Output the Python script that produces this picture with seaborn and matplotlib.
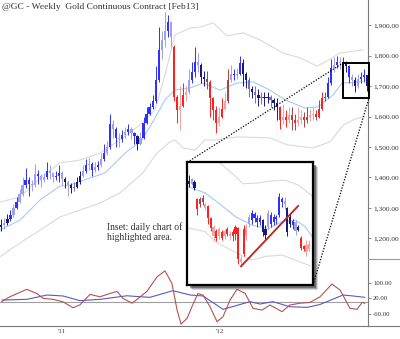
import pandas as pd
import matplotlib
matplotlib.use("Agg")
import matplotlib.pyplot as plt
import matplotlib.dates as mdates
from matplotlib.patches import Rectangle
from matplotlib.lines import Line2D
import seaborn as sns

sns.set_theme(style="white")
plt.rcParams["font.family"] = ["Liberation Serif", "DejaVu Serif"]

# ---------------- weekly gold continuous contract ----------------
week_start = "2010-08-13"
wk_open = [1238, 1245, 1250, 1262, 1275, 1300, 1320, 1345, 1375, 1390,
           1380, 1375, 1410, 1405, 1390, 1400, 1420, 1415, 1400, 1405,
           1415, 1395, 1385, 1375, 1365, 1370, 1385, 1405, 1420, 1440,
           1445, 1425, 1435, 1440, 1460, 1480, 1500, 1575, 1560, 1530,
           1525, 1540, 1550, 1560, 1545, 1535, 1510, 1530, 1580, 1610,
           1630, 1650, 1720, 1820, 1850, 1880, 1910, 1830, 1665, 1620,
           1635, 1670, 1680, 1720, 1745, 1780, 1770, 1730, 1725, 1715,
           1660, 1620, 1580, 1600, 1625, 1650, 1720, 1740, 1735, 1740,
           1775, 1740, 1720, 1690, 1680, 1670, 1660, 1665, 1660, 1665,
           1655, 1645, 1630, 1590, 1600, 1590, 1605, 1590, 1580, 1590,
           1600, 1590, 1600, 1605, 1610, 1600, 1625, 1660, 1665, 1710,
           1760, 1770, 1780, 1775, 1780, 1765, 1730, 1720, 1700, 1725,
           1730, 1735]
wk_high = [1262, 1268, 1280, 1292, 1312, 1335, 1362, 1400, 1430, 1400,
           1390, 1445, 1425, 1410, 1415, 1450, 1440, 1418, 1420, 1440,
           1420, 1400, 1392, 1382, 1385, 1400, 1420, 1440, 1460, 1465,
           1450, 1450, 1455, 1480, 1510, 1520, 1610, 1590, 1565, 1545,
           1555, 1565, 1575, 1565, 1550, 1540, 1550, 1600, 1630, 1645,
           1670, 1765, 1895, 1880, 1945, 1935, 1915, 1835, 1670, 1700,
           1710, 1700, 1755, 1780, 1830, 1810, 1775, 1750, 1750, 1720,
           1665, 1635, 1630, 1660, 1680, 1755, 1770, 1755, 1760, 1800,
           1790, 1745, 1730, 1700, 1700, 1690, 1680, 1680, 1680, 1670,
           1660, 1660, 1635, 1640, 1620, 1630, 1630, 1610, 1630, 1620,
           1615, 1630, 1625, 1630, 1620, 1655, 1680, 1680, 1730, 1790,
           1795, 1800, 1795, 1795, 1782, 1768, 1740, 1730, 1740, 1745,
           1755, 1738]
wk_low = [1225, 1232, 1245, 1258, 1270, 1295, 1315, 1340, 1365, 1340,
          1355, 1370, 1380, 1370, 1385, 1395, 1395, 1385, 1390, 1385,
          1375, 1365, 1340, 1350, 1355, 1365, 1380, 1400, 1415, 1425,
          1405, 1418, 1425, 1435, 1455, 1475, 1495, 1530, 1500, 1500,
          1518, 1530, 1540, 1525, 1510, 1490, 1505, 1525, 1575, 1605,
          1625, 1645, 1715, 1790, 1830, 1860, 1830, 1650, 1580, 1555,
          1630, 1650, 1675, 1710, 1730, 1745, 1710, 1700, 1690, 1600,
          1590, 1545, 1570, 1595, 1620, 1645, 1715, 1720, 1725, 1735,
          1700, 1695, 1665, 1660, 1645, 1635, 1640, 1635, 1645, 1630,
          1620, 1590, 1560, 1575, 1565, 1580, 1555, 1555, 1570, 1575,
          1565, 1580, 1585, 1590, 1590, 1595, 1620, 1650, 1660, 1705,
          1745, 1760, 1755, 1760, 1745, 1710, 1700, 1680, 1695, 1710,
          1715, 1685]
wk_close = [1245, 1250, 1262, 1275, 1300, 1320, 1345, 1375, 1390, 1380,
            1375, 1410, 1405, 1390, 1400, 1420, 1415, 1400, 1405, 1415,
            1395, 1385, 1375, 1365, 1370, 1385, 1405, 1420, 1440, 1445,
            1425, 1435, 1440, 1460, 1480, 1500, 1575, 1560, 1530, 1525,
            1540, 1550, 1560, 1545, 1535, 1510, 1530, 1580, 1610, 1630,
            1650, 1720, 1820, 1850, 1880, 1910, 1860, 1665, 1620, 1635,
            1670, 1680, 1720, 1745, 1780, 1770, 1730, 1725, 1715, 1660,
            1620, 1580, 1600, 1625, 1650, 1720, 1740, 1735, 1740, 1775,
            1740, 1720, 1690, 1680, 1670, 1660, 1665, 1660, 1665, 1655,
            1645, 1630, 1590, 1600, 1590, 1605, 1590, 1580, 1590, 1600,
            1590, 1600, 1605, 1610, 1600, 1625, 1660, 1665, 1710, 1760,
            1770, 1780, 1775, 1780, 1765, 1730, 1720, 1700, 1725, 1730,
            1735, 1700]
# bar shading: B blue, L light blue, N navy, P slate, R red, S light red, D dark red
wk_tone = ("NLNBLBLLBB" "LLBLLBLLBB" "LNLNPNNLBL" "BLBLBLBLBL" "BLBLBNLBBB"
           "BBBLLBLRRS" "RSLBBLNNDR" "RRSRSDLBLB" "NNPNPNPNNP" "NNRSRSDRSS"
           "DRSSDRRRBB" "LBLBNBLNLB" "BN")

# price bands (position in weeks from first bar, price)
upper_wk = [-0.5, 6.2, 12.8, 19.4, 26.0, 32.6, 39.2, 45.8, 50.8, 54.1, 57.4, 62.4,
            65.7, 70.0, 74.6, 79.9, 85.5, 93.1, 98.7, 104.4, 107.0, 112.0, 119.6]
upper_px = [1319, 1336, 1398, 1448, 1457, 1480, 1523, 1572, 1622, 1737, 1868, 1891,
            1894, 1908, 1865, 1875, 1852, 1809, 1793, 1766, 1779, 1809, 1819]
mid_wk = [-0.5, 6.2, 12.8, 19.4, 22.7, 29.3, 34.3, 40.9, 46.5, 50.8, 54.1, 57.4,
          62.4, 66.7, 72.3, 77.9, 83.2, 88.8, 93.8, 100.4, 104.7, 109.7, 112.6, 119.3]
mid_px = [1227, 1260, 1326, 1372, 1375, 1398, 1415, 1480, 1523, 1595, 1655, 1687,
          1694, 1710, 1687, 1710, 1714, 1687, 1655, 1628, 1632, 1671, 1710, 1714]
lower_wk = [-0.5, 6.2, 12.8, 19.4, 26.0, 32.6, 39.2, 46.8, 51.4, 55.8, 57.4, 60.1,
            64.0, 67.3, 70.6, 77.9, 88.8, 94.5, 103.0, 108.7, 113.0, 117.6, 120.2]
lower_px = [1139, 1185, 1227, 1270, 1293, 1316, 1349, 1415, 1480, 1517, 1523, 1497,
            1490, 1523, 1523, 1533, 1530, 1507, 1497, 1517, 1572, 1595, 1599]

# oscillators
fast_wk = [0.1, 2.8, 8.4, 11.7, 13.8, 17.1, 20.4, 23.7, 26.0, 29.3, 32.6, 35.9, 38.2,
           40.2, 43.2, 44.8, 48.1, 51.5, 54.1, 56.4, 58.1, 59.4, 61.4, 63.0, 65.0, 66.7,
           69.0, 71.3, 73.3, 75.6, 77.9, 80.6, 83.2, 86.2, 88.8, 92.8, 95.4, 98.7, 102.0,
           105.4, 109.3, 112.0, 115.3, 117.6, 119.3, 120.2]
fast_val = [3, 28, 66, 45, 20, 15, 2, -28, -13, 40, 28, 45, 55,
            20, -5, 14, 55, 130, 160, 96, -40, -111, -82, -23, 45, 36,
            -23, -99, -73, 11, 66, 45, -31, -40, -14, -48, -14, -5, -1,
            28, 93, 62, -31, -36, -1, -5]
slow_wk = [0.2, 8.5, 15.1, 20.4, 26.0, 32.6, 41.5, 49.1, 56.7, 62.4, 66.7, 73.3,
           82.2, 85.5, 89.8, 95.4, 101.1, 105.4, 113.0, 116.3, 120.2]
slow_val = [11, 15, 37, 32, 8, 15, 33, 25, 59, 37, 32, -36,
            3, -9, 3, -23, -26, -11, 37, 32, 25]

# highlighted window on the weekly chart
box_from, box_to = "2012-10-11", "2012-12-11"
box_lo, box_hi = 1661, 1776

# ---------------- daily detail (inset) ----------------
d_open = [1790, 1786, 1789, 1764, 1758, 1766, 1757, 1755, 1738, 1726,
          1720, 1712, 1718, 1712, 1723, 1716, 1718, 1715, 1724, 1680,
          1688, 1712, 1730, 1735, 1744, 1738, 1733, 1735, 1722, 1725,
          1742, 1732, 1736, 1742, 1764, 1758, 1752, 1740, 1728, 1732,
          1726, 1710, 1698, 1700, 1695]
d_high = [1798, 1794, 1791, 1766, 1768, 1770, 1759, 1756, 1740, 1728,
          1723, 1726, 1721, 1723, 1726, 1719, 1723, 1728, 1726, 1684,
          1728, 1730, 1744, 1749, 1747, 1742, 1742, 1737, 1728, 1749,
          1747, 1744, 1742, 1773, 1768, 1768, 1754, 1744, 1737, 1735,
          1728, 1712, 1700, 1707, 1707]
d_low = [1782, 1784, 1777, 1742, 1754, 1756, 1749, 1730, 1719, 1707,
         1705, 1709, 1707, 1709, 1712, 1707, 1705, 1707, 1674, 1672,
         1684, 1707, 1726, 1730, 1733, 1726, 1728, 1712, 1709, 1721,
         1726, 1728, 1730, 1740, 1754, 1751, 1712, 1726, 1723, 1714,
         1719, 1693, 1691, 1684, 1691]
d_close = [1785, 1792, 1780, 1750, 1765, 1760, 1752, 1738, 1724, 1712,
           1710, 1722, 1710, 1720, 1716, 1712, 1712, 1725, 1680, 1676,
           1722, 1726, 1740, 1745, 1738, 1732, 1738, 1718, 1714, 1745,
           1730, 1740, 1739, 1768, 1760, 1762, 1718, 1730, 1734, 1720,
           1721, 1696, 1694, 1690, 1702]
d_tone = "NLNRDDSRRS" "RSRSRSRRRS" "RSLBBBBNNL" "BBBBBLNNBL" "NRRSS"
d_up_x = [8.0, 10.8, 15.6, 19.9, 25.4, 30.3, 35.2, 40.1, 45.0]
d_up = [1830, 1817, 1801, 1786, 1787, 1790, 1791, 1784, 1769]
d_mid_x = [-0.5, 5.9, 10.8, 16.9, 23.0, 29.1, 34.0, 38.9, 42.5, 45.4]
d_mid = [1782, 1773, 1759, 1740, 1728, 1723, 1733, 1735, 1726, 1710]
d_lo_x = [-0.5, 5.9, 9.5, 14.4, 19.9, 23.0, 27.9, 34.0, 38.9, 44.4]
d_lo = [1724, 1719, 1705, 1695, 1684, 1679, 1684, 1686, 1679, 1671]
trend_x = [19, 40]
trend_y = [1670, 1755]

price_ticks = [1200, 1300, 1400, 1500, 1600, 1700, 1800, 1900]
osc_ticks = [100, 20, -60]
osc_labels = ["100.00", "20.00", "-60.00"]
title = "@GC - Weekly  Gold Continuous Contract [Feb13]"
note = ["Inset: daily chart of", "highlighted area."]

tone_colors = {"B": "#2f2fff", "L": "#a0a0f0", "N": "#18187e", "P": "#7272b8",
               "R": "#ff2020", "S": "#f6a0a0", "D": "#a84444"}
band_gray = "#dadada"
band_blue = "#a6ccf4"
axis_gray = "#7a7a7a"
text_col = "#333333"

W, H = 400, 339
fig = plt.figure(figsize=(W / 100, H / 100), dpi=100)
fig.patch.set_facecolor("white")


def fx(px):
    return px / W


def fy(py):
    return 1 - py / H


ax = fig.add_axes([0, fy(259), fx(368), fy(0) - fy(259)], zorder=1)
axo = fig.add_axes([0, fy(326), fx(368), fy(259) - fy(326)], zorder=1)

weeks = pd.date_range(week_start, periods=len(wk_close), freq="7D")
t0 = pd.Timestamp(week_start)


def wk_dates(pos):
    return pd.DatetimeIndex([t0 + pd.Timedelta(days=7 * p) for p in pos])


ref = pd.Timestamp("2011-01-01")
xlim = (ref - pd.Timedelta(days=144.2), ref + pd.Timedelta(days=707.6))


def draw_bars(a, xs, o, h, l, c, tones, width, wick_lw):
    cols = [tone_colors[t] for t in tones]
    a.vlines(xs, l, h, colors=cols, lw=wick_lw, zorder=3)
    bottoms = [min(a1, b1) for a1, b1 in zip(o, c)]
    heights = [max(abs(b1 - a1), 1.5) for a1, b1 in zip(o, c)]
    a.bar(xs, heights, bottom=bottoms, width=width, color=cols, linewidth=0, zorder=4)


# bands and moving average
sns.lineplot(x=wk_dates(upper_wk), y=upper_px, ax=ax, color=band_gray, lw=0.8, sort=False, estimator=None)
sns.lineplot(x=wk_dates(lower_wk), y=lower_px, ax=ax, color=band_gray, lw=0.8, sort=False, estimator=None)
sns.lineplot(x=wk_dates(mid_wk), y=mid_px, ax=ax, color=band_blue, lw=0.8, sort=False, estimator=None)
draw_bars(ax, weeks, wk_open, wk_high, wk_low, wk_close, wk_tone, 5.0, 0.7)

ax.set_xlim(*xlim)
ax.set_ylim(1132, 1983)
ax.set_xlabel("")
ax.set_ylabel("")
ax.set_xticks([])
for s in ("left", "top", "bottom"):
    ax.spines[s].set_visible(False)
ax.spines["right"].set_color(axis_gray)
ax.spines["right"].set_linewidth(0.8)
ax.yaxis.tick_right()
ax.set_yticks(price_ticks)
ax.set_yticklabels([f"{v:,.2f}" for v in price_ticks])
ax.tick_params(axis="y", direction="out", length=2.5, width=0.6, color=axis_gray,
               labelsize=5.3, labelcolor=text_col, pad=1.2)

# highlighted window
bx0 = mdates.date2num(pd.Timestamp(box_from))
bx1 = mdates.date2num(pd.Timestamp(box_to))
ax.add_patch(Rectangle((bx0, box_lo), bx1 - bx0, box_hi - box_lo, fill=False,
                       edgecolor="black", lw=1.4, clip_on=False, zorder=6))

# oscillator panel
axo.axhline(0, color="#a0a0a0", lw=0.8, zorder=1)
sns.lineplot(x=wk_dates(slow_wk), y=slow_val, ax=axo, color="#5a5ac2", lw=0.8, sort=False, estimator=None)
sns.lineplot(x=wk_dates(fast_wk), y=fast_val, ax=axo, color="#b55252", lw=0.8, sort=False, estimator=None)
axo.set_xlim(*xlim)
axo.set_ylim(-121, 220.5)
axo.set_xlabel("")
axo.set_ylabel("")
for s in ("left", "top"):
    axo.spines[s].set_visible(False)
for s in ("right", "bottom"):
    axo.spines[s].set_color(axis_gray)
    axo.spines[s].set_linewidth(0.8)
axo.yaxis.tick_right()
axo.set_yticks(osc_ticks)
axo.set_yticklabels(osc_labels)
axo.tick_params(axis="y", direction="out", length=2.5, width=0.6, color=axis_gray,
                labelsize=4.9, labelcolor=text_col, pad=1.2)
quarters = pd.date_range("2010-10-01", "2012-10-01", freq="QS")
axo.set_xticks(quarters)
axo.set_xticklabels(["'" + d.strftime("%y") if d.month == 1 else "" for d in quarters])
axo.tick_params(axis="x", direction="inout", length=3, width=0.6, color=axis_gray,
                labelsize=5.2, labelcolor="#4a4a30", pad=0.5)

# separator lines in the scale column
fig.add_artist(Line2D([fx(368), 1], [fy(326), fy(326)], color=axis_gray, lw=0.8, zorder=2))
fig.add_artist(Line2D([fx(368), 1], [fy(259), fy(259)], color="#9a9a9a", lw=0.8, zorder=2))

# inset with drop shadow
ix0, ix1, iy0, iy1 = 187.3, 313, 162.3, 285
for off, a in ((4.5, 0.18), (3.5, 0.3), (2.5, 0.45)):
    fig.add_artist(Rectangle((fx(ix0 + off), fy(iy1 + off)), fx(ix1 - ix0), fy(iy0) - fy(iy1),
                             transform=fig.transFigure, facecolor="#303030", alpha=a,
                             edgecolor="none", zorder=2))
ins = fig.add_axes([fx(ix0), fy(iy1), fx(ix1 - ix0), fy(iy0) - fy(iy1)], zorder=3)
ins.set_facecolor("white")
days = list(range(len(d_close)))
sns.lineplot(x=d_up_x, y=d_up, ax=ins, color=band_gray, lw=0.8, sort=False, estimator=None)
sns.lineplot(x=d_lo_x, y=d_lo, ax=ins, color=band_gray, lw=0.8, sort=False, estimator=None)
sns.lineplot(x=d_mid_x, y=d_mid, ax=ins, color=band_blue, lw=0.8, sort=False, estimator=None)
draw_bars(ins, days, d_open, d_high, d_low, d_close, d_tone, 0.8, 0.7)
ins.plot(trend_x, trend_y, color="#c42020", lw=1.3, zorder=5)
ins.set_xlim(-0.62, 45.4)
ins.set_ylim(1644, 1816)
ins.set_xticks([])
ins.set_yticks([])
ins.set_xlabel("")
ins.set_ylabel("")
for s in ins.spines.values():
    s.set_visible(True)
    s.set_color("black")
    s.set_linewidth(1.6)

# connectors from the highlighted window to the inset
dots = dict(color="black", lw=0.9, linestyle=(0, (1, 1.3)), zorder=4)
fig.add_artist(Line2D([fx(ix0), fx(343)], [fy(iy0), fy(63)], **dots))
fig.add_artist(Line2D([fx(ix1), fx(369)], [fy(iy1), fy(98)], **dots))

# captions
fig.text(fx(2), fy(7), title, fontsize=6.8, color=text_col, va="center", ha="left")
fig.text(fx(107), fy(227), note[0], fontsize=6.9, color=text_col, va="center", ha="left")
fig.text(fx(107), fy(238), note[1], fontsize=6.9, color=text_col, va="center", ha="left")

fig.savefig("out.png", dpi=100, facecolor="white")
